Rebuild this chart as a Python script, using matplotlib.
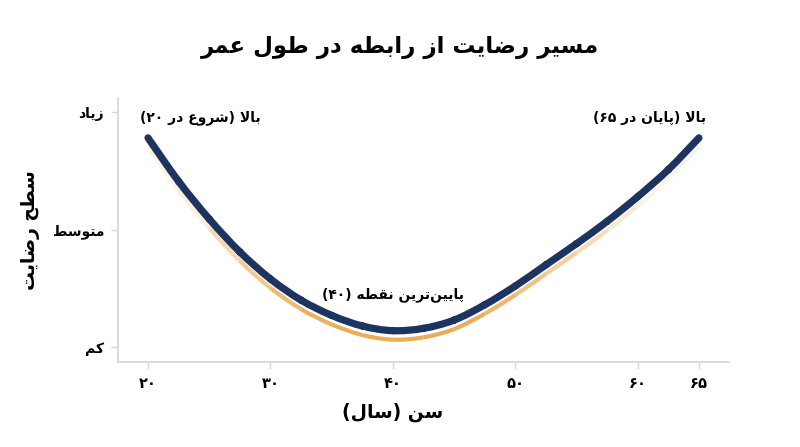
import matplotlib
matplotlib.use("Agg")
import matplotlib.pyplot as plt
from matplotlib.path import Path
from matplotlib.patches import PathPatch
from matplotlib.transforms import offset_copy
import numpy as np

# ---- data ----
ages = [20, 22.5, 25, 27.5, 30, 32.5, 35, 37.5, 40, 42.5, 45, 47.5, 50,
        52.5, 55, 57.5, 60, 62.5, 65]
satisfaction = [2.78, 2.41, 2.09, 1.81, 1.58, 1.40, 1.27, 1.18, 1.14, 1.16,
                1.23, 1.36, 1.52, 1.70, 1.88, 2.07, 2.28, 2.51, 2.78]

x_ticks = [20, 30, 40, 50, 60, 65]
x_tick_labels = ["۲۰", "۳۰", "۴۰", "۵۰", "۶۰", "۶۵"]
y_ticks = [1, 2, 3]
y_tick_labels = ["کم", "متوسط", "زیاد"]

title = "مسیر رضایت از رابطه در طول عمر"
x_label = "سن (سال)"
y_label = "سطح رضایت"
note_start = "بالا (شروع در ۲۰)"
note_low = "پایین‌ترین نقطه (۴۰)"
note_end = "بالا (پایان در ۶۵)"

# ---- tiny Persian shaper (matplotlib has no complex text layout) ----
# char: (isolated, final, initial, medial); two entries = right-joining only
FORMS = {
    "ا": (0xFE8D, 0xFE8E), "آ": (0xFE81, 0xFE82),
    "ب": (0xFE8F, 0xFE90, 0xFE91, 0xFE92), "پ": (0xFB56, 0xFB57, 0xFB58, 0xFB59),
    "ت": (0xFE95, 0xFE96, 0xFE97, 0xFE98), "ث": (0xFE99, 0xFE9A, 0xFE9B, 0xFE9C),
    "ج": (0xFE9D, 0xFE9E, 0xFE9F, 0xFEA0), "چ": (0xFB7A, 0xFB7B, 0xFB7C, 0xFB7D),
    "ح": (0xFEA1, 0xFEA2, 0xFEA3, 0xFEA4), "خ": (0xFEA5, 0xFEA6, 0xFEA7, 0xFEA8),
    "د": (0xFEA9, 0xFEAA), "ذ": (0xFEAB, 0xFEAC), "ر": (0xFEAD, 0xFEAE),
    "ز": (0xFEAF, 0xFEB0), "ژ": (0xFB8A, 0xFB8B),
    "س": (0xFEB1, 0xFEB2, 0xFEB3, 0xFEB4), "ش": (0xFEB5, 0xFEB6, 0xFEB7, 0xFEB8),
    "ص": (0xFEB9, 0xFEBA, 0xFEBB, 0xFEBC), "ض": (0xFEBD, 0xFEBE, 0xFEBF, 0xFEC0),
    "ط": (0xFEC1, 0xFEC2, 0xFEC3, 0xFEC4), "ظ": (0xFEC5, 0xFEC6, 0xFEC7, 0xFEC8),
    "ع": (0xFEC9, 0xFECA, 0xFECB, 0xFECC), "غ": (0xFECD, 0xFECE, 0xFECF, 0xFED0),
    "ف": (0xFED1, 0xFED2, 0xFED3, 0xFED4), "ق": (0xFED5, 0xFED6, 0xFED7, 0xFED8),
    "ک": (0xFB8E, 0xFB8F, 0xFB90, 0xFB91), "گ": (0xFB92, 0xFB93, 0xFB94, 0xFB95),
    "ل": (0xFEDD, 0xFEDE, 0xFEDF, 0xFEE0), "م": (0xFEE1, 0xFEE2, 0xFEE3, 0xFEE4),
    "ن": (0xFEE5, 0xFEE6, 0xFEE7, 0xFEE8), "ه": (0xFEE9, 0xFEEA, 0xFEEB, 0xFEEC),
    "و": (0xFEED, 0xFEEE), "ی": (0xFBFC, 0xFBFD, 0xFBFE, 0xFBFF),
}
MIRROR = {"(": ")", ")": "("}


def fa(text):
    chars = list(text)
    out = []
    i = 0
    while i < len(chars):
        c = chars[i]
        if c not in FORMS:
            if c != "\u200c":
                out.append(c)
            i += 1
            continue
        prev = chars[i - 1] if i > 0 else ""
        nxt = chars[i + 1] if i + 1 < len(chars) else ""
        joins_prev = prev in FORMS and len(FORMS[prev]) == 4
        if c == "ل" and nxt in ("ا", "آ"):
            out.append(chr(0xFEFC if joins_prev else 0xFEFB))
            i += 2
            continue
        f = FORMS[c]
        joins_next = len(f) == 4 and nxt in FORMS
        if joins_prev and joins_next:
            out.append(chr(f[3]))
        elif joins_prev:
            out.append(chr(f[1]))
        elif joins_next:
            out.append(chr(f[2]))
        else:
            out.append(chr(f[0]))
        i += 1
    # right-to-left: reverse, keep digit runs left-to-right, mirror brackets
    rev = out[::-1]
    res, run = [], []
    for ch in rev:
        if ch.isdigit():
            run.append(ch)
        else:
            res.extend(run[::-1])
            run = []
            res.append(MIRROR.get(ch, ch))
    res.extend(run[::-1])
    return "".join(res)


def smooth_pieces(xs, ys):
    # Catmull-Rom -> cubic bezier pieces between consecutive read points
    p = np.column_stack([xs, ys]).astype(float)
    p_ext = np.vstack([p[0], p, p[-1]])
    pieces = []
    for k in range(len(p) - 1):
        p0, p1, p2, p3 = p_ext[k], p_ext[k + 1], p_ext[k + 2], p_ext[k + 3]
        c1 = p1 + (p2 - p0) / 6
        c2 = p2 - (p3 - p1) / 6
        pieces.append(Path([p1, c1, c2, p2],
                           [Path.MOVETO, Path.CURVE4, Path.CURVE4, Path.CURVE4]))
    return pieces


plt.rcParams["font.family"] = ["DejaVu Sans"]
navy = "#1d3461"
grid_grey = "#d9d9d9"

fig = plt.figure(figsize=(8, 4.47), dpi=100)
ax = fig.add_axes([0.1475, 0.19, 0.7637, 0.591])

pieces = smooth_pieces(ages, satisfaction)

# orange glow under the main curve, fading towards the ends
glow_tr = offset_copy(ax.transData, fig=fig, x=0, y=-9, units="dots")
for k, piece in enumerate(pieces):
    mid = (satisfaction[k] + satisfaction[k + 1]) / 2
    a = float(np.clip(1.0 - (mid - 1.15) / 1.35, 0.12, 0.9))
    ax.add_patch(PathPatch(piece, facecolor="none", edgecolor="#e8a445",
                           alpha=a, lw=3, capstyle="butt", transform=glow_tr,
                           zorder=2))

main_path = Path.make_compound_path(*pieces)
ax.add_patch(PathPatch(main_path, facecolor="none", edgecolor=navy, lw=5.2,
                       capstyle="round", joinstyle="round", zorder=3))

ax.set_xlim(17.55, 67.45)
ax.set_ylim(0.873, 3.12)
ax.set_xticks(x_ticks)
ax.set_xticklabels([fa(t) for t in x_tick_labels], fontsize=10.5, fontweight="bold")
ax.set_yticks(y_ticks)
ax.set_yticklabels([fa(t) for t in y_tick_labels], fontsize=10, fontweight="bold")
ax.tick_params(axis="x", color=grid_grey, length=5, width=1, pad=5)
ax.tick_params(axis="y", color=grid_grey, length=5, width=1, pad=5)

for side in ("top", "right"):
    ax.spines[side].set_visible(False)
for side in ("left", "bottom"):
    ax.spines[side].set_color(grid_grey)
    ax.spines[side].set_linewidth(1.3)

ax.set_xlabel(fa(x_label), fontsize=13.5, fontweight="bold")
ax.xaxis.set_label_coords(0.45, -0.155)
ax.set_ylabel(fa(y_label), fontsize=13.5, fontweight="bold")
ax.yaxis.set_label_coords(-0.128, 0.5)

ax.text(24.25, 2.95, fa(note_start), ha="center", va="center",
        fontsize=10, fontweight="bold")
ax.text(40.0, 1.45, fa(note_low), ha="center", va="center",
        fontsize=10, fontweight="bold")
ax.text(61.0, 2.95, fa(note_end), ha="center", va="center",
        fontsize=10, fontweight="bold")

fig.text(0.5, 0.893, fa(title), ha="center", va="center",
         fontsize=16.5, fontweight="bold")

fig.savefig("out.png", dpi=100, facecolor="white")
